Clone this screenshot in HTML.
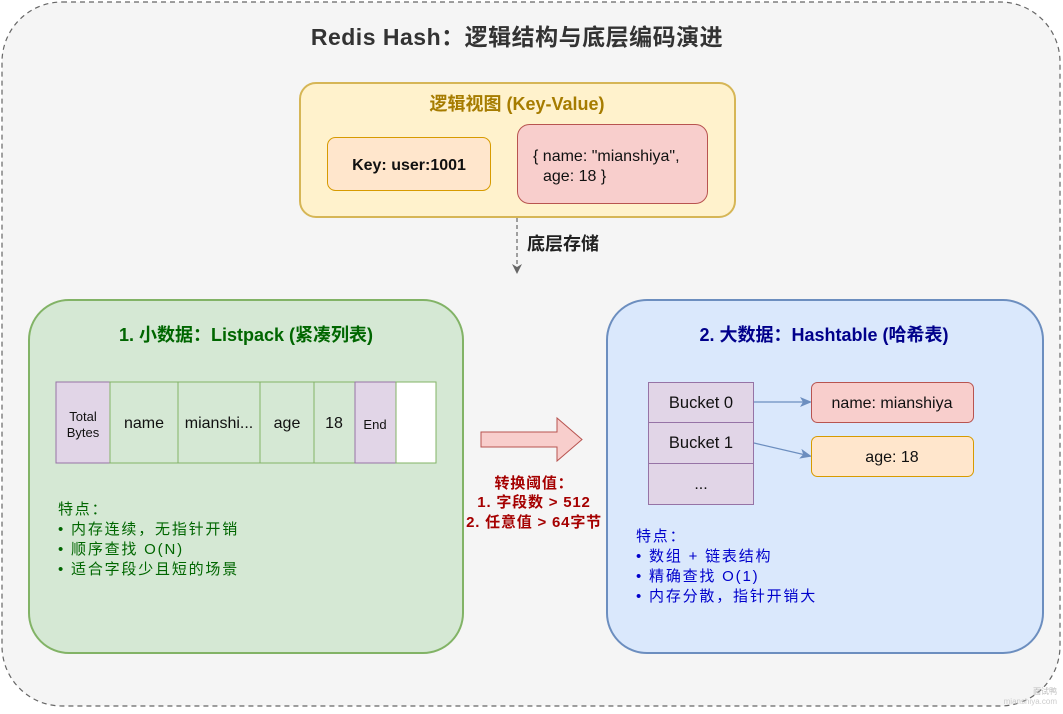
<!DOCTYPE html>
<html><head><meta charset="utf-8"><style>
html,body{margin:0;padding:0;background:#fff;}
svg text{font-family:"Liberation Sans","Noto Sans CJK SC",sans-serif;}
</style></head><body>
<svg width="1063" height="709" viewBox="0 0 1063 709" xmlns="http://www.w3.org/2000/svg">
<defs>
<marker id="ag" markerWidth="10" markerHeight="10" refX="8" refY="5" orient="auto" markerUnits="userSpaceOnUse"><path d="M0,0 L10,5 L0,10 L3,5 Z" fill="#666"/></marker>
<marker id="ab" markerWidth="12" markerHeight="10" refX="10" refY="5" orient="auto" markerUnits="userSpaceOnUse"><path d="M0,0 L12,5 L0,10 L3,5 Z" fill="#6c8ebf"/></marker>
</defs>
<rect x="2" y="2" width="1058" height="704" rx="60" fill="#f5f5f5" stroke="#666" stroke-dasharray="5,4" stroke-width="1.2"/>
<text x="517" y="45" text-anchor="middle" font-size="23" font-weight="bold" fill="#333" letter-spacing="0.5">Redis Hash：逻辑结构与底层编码演进</text>

<rect x="300" y="83" width="435" height="134" rx="16" fill="#fff2cc" stroke="#d6b656" stroke-width="2"/>
<text x="517" y="110" text-anchor="middle" font-size="18" font-weight="bold" fill="#a67c00">逻辑视图 (Key-Value)</text>
<rect x="327.5" y="137.5" width="163" height="53" rx="8" fill="#ffe6cc" stroke="#d79b00"/>
<text x="409" y="170" text-anchor="middle" font-size="16" font-weight="bold" fill="#111">Key: user:1001</text>
<rect x="517.5" y="124.5" width="190" height="79" rx="12" fill="#f8cecc" stroke="#b85450"/>
<text x="533" y="161" font-size="16" fill="#111">{ name: "mianshiya",</text>
<text x="543" y="181" font-size="16" fill="#111">age: 18 }</text>

<line x1="517" y1="218" x2="517" y2="272" stroke="#666" stroke-dasharray="4,3" stroke-width="1.2" marker-end="url(#ag)"/>
<text x="527" y="250" font-size="18" font-weight="bold" fill="#222">底层存储</text>

<rect x="29" y="300" width="434" height="353" rx="40" fill="#d5e8d4" stroke="#82b366" stroke-width="2"/>
<text x="246" y="341" text-anchor="middle" font-size="18" font-weight="bold" fill="#006600">1. 小数据：Listpack (紧凑列表)</text>
<g stroke="#82b366" stroke-width="1">
<rect x="56" y="382" width="54" height="81" fill="#e1d5e7" stroke="#9673a6"/>
<rect x="110" y="382" width="68" height="81" fill="#d5e8d4"/>
<rect x="178" y="382" width="82" height="81" fill="#d5e8d4"/>
<rect x="260" y="382" width="54" height="81" fill="#d5e8d4"/>
<rect x="314" y="382" width="41" height="81" fill="#d5e8d4"/>
<rect x="355" y="382" width="41" height="81" fill="#e1d5e7" stroke="#9673a6"/>
<rect x="396" y="382" width="40" height="81" fill="#fff"/>
</g>
<text x="83" y="421" text-anchor="middle" font-size="13" fill="#111">Total</text>
<text x="83" y="437" text-anchor="middle" font-size="13" fill="#111">Bytes</text>
<text x="144" y="428" text-anchor="middle" font-size="16" fill="#111">name</text>
<text x="219" y="428" text-anchor="middle" font-size="16" fill="#111">mianshi...</text>
<text x="287" y="428" text-anchor="middle" font-size="16" fill="#111">age</text>
<text x="334" y="428" text-anchor="middle" font-size="16" fill="#111">18</text>
<text x="375" y="429" text-anchor="middle" font-size="13" fill="#111">End</text>
<g font-size="15" fill="#006600" letter-spacing="1.8">
<text x="58" y="514">特点：</text>
<text x="58" y="534">• 内存连续，无指针开销</text>
<text x="58" y="554">• 顺序查找 O(N)</text>
<text x="58" y="574">• 适合字段少且短的场景</text>
</g>

<path d="M481,432 L557,432 L557,418 L582,439.5 L557,461 L557,447 L481,447 Z" fill="#f8cecc" stroke="#b85450" stroke-width="1"/>
<g font-size="15" font-weight="bold" fill="#a50000" text-anchor="middle" letter-spacing="0.8">
<text x="534" y="488">转换阈值：</text>
<text x="534" y="507">1. 字段数 &gt; 512</text>
<text x="534" y="527">2. 任意值 &gt; 64字节</text>
</g>

<rect x="607" y="300" width="436" height="353" rx="40" fill="#dae8fc" stroke="#6c8ebf" stroke-width="2"/>
<text x="824" y="341" text-anchor="middle" font-size="18" font-weight="bold" fill="#00008b">2. 大数据：Hashtable (哈希表)</text>
<g fill="#e1d5e7" stroke="#9673a6">
<rect x="648.5" y="382.5" width="105" height="40"/>
<rect x="648.5" y="422.5" width="105" height="41"/>
<rect x="648.5" y="463.5" width="105" height="41"/>
</g>
<text x="701" y="408" text-anchor="middle" font-size="16.5" fill="#111">Bucket 0</text>
<text x="701" y="448" text-anchor="middle" font-size="16.5" fill="#111">Bucket 1</text>
<text x="701" y="489" text-anchor="middle" font-size="16" fill="#111">...</text>
<line x1="754" y1="402" x2="810" y2="402" stroke="#6c8ebf" stroke-width="1.2" marker-end="url(#ab)"/>
<line x1="754" y1="443" x2="810" y2="456" stroke="#6c8ebf" stroke-width="1.2" marker-end="url(#ab)"/>
<rect x="811.5" y="382.5" width="162" height="40" rx="6" fill="#f8cecc" stroke="#b85450"/>
<text x="892" y="408" text-anchor="middle" font-size="16" fill="#111">name: mianshiya</text>
<rect x="811.5" y="436.5" width="162" height="40" rx="6" fill="#ffe6cc" stroke="#d79b00"/>
<text x="892" y="462" text-anchor="middle" font-size="16" fill="#111">age: 18</text>
<g font-size="15" fill="#0000cc" letter-spacing="1.8">
<text x="636" y="541">特点：</text>
<text x="636" y="561">• 数组 + 链表结构</text>
<text x="636" y="581">• 精确查找 O(1)</text>
<text x="636" y="601">• 内存分散，指针开销大</text>
</g>
<text x="1057" y="694" text-anchor="end" font-size="8" fill="#bbb">面试鸭</text>
<text x="1057" y="704" text-anchor="end" font-size="8" fill="#ccc">mianshiya.com</text>
</svg>
</body></html>
